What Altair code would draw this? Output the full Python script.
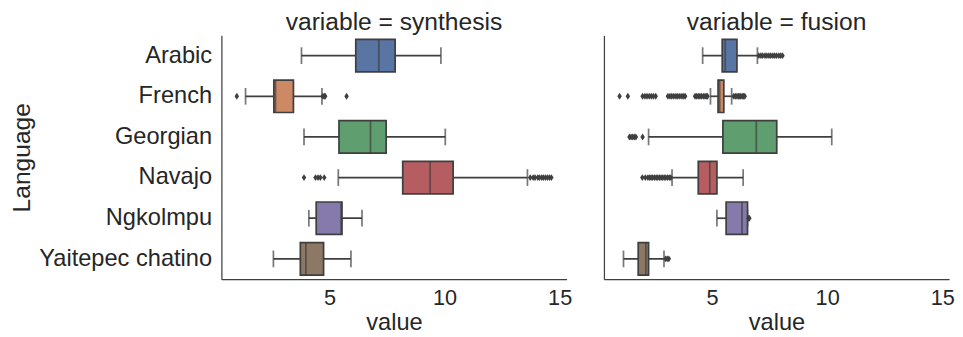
import altair as alt
import pandas as pd

languages = ["Arabic", "French", "Georgian", "Navajo", "Ngkolmpu", "Yaitepec chatino"]
palette = ["#5875a4", "#cc8963", "#5f9e6e", "#b55d60", "#857aab", "#8d7866"]

# synthesis box statistics
syn_lo  = [3.78, 1.35, 3.89, 5.38, 4.10, 2.56]
syn_q1  = [6.14, 2.58, 5.41, 8.18, 4.42, 3.73]
syn_med = [7.14, 2.65, 6.78, 9.37, 5.50, 3.97]
syn_q3  = [7.85, 3.43, 7.46, 10.37, 5.54, 4.74]
syn_hi  = [9.84, 4.67, 10.03, 13.60, 6.41, 5.93]
syn_outliers = {
    "French": [0.97, 4.71, 4.77, 4.81, 5.74],
    "Navajo": [3.89, 4.39, 4.50, 4.60, 4.77, 13.72, 13.85, 13.93, 14.05, 14.12,
               14.22, 14.29, 14.38, 14.47, 14.56, 14.64],
}

# fusion box statistics
fus_lo  = [4.59, 4.93, 2.24, 3.26, 5.21, 1.15]
fus_q1  = [5.44, 5.26, 5.47, 4.40, 5.61, 1.79]
fus_med = [5.57, 5.33, 6.92, 4.90, 6.30, 2.12]
fus_q3  = [6.08, 5.51, 7.81, 5.21, 6.54, 2.24]
fus_hi  = [6.97, 5.85, 10.20, 6.35, 6.54, 2.91]
fus_outliers = {
    "Arabic": [7.03, 7.12, 7.20, 7.30, 7.38, 7.47, 7.55, 7.64, 7.72, 7.80, 7.90, 7.98, 8.06],
    "French": [0.98, 1.34, 1.98, 2.08, 2.17, 2.27, 2.36, 2.45, 2.55, 3.08, 3.17, 3.25,
               3.34, 3.43, 3.51, 3.60, 3.69, 3.77, 3.83, 4.26, 4.33, 4.40, 4.47, 4.54,
               4.62, 4.69, 4.75, 4.80, 5.94, 6.01, 6.08, 6.14, 6.20, 6.25, 6.31, 6.36, 6.42],
    "Georgian": [1.41, 1.48, 1.55, 1.62, 1.69, 1.98],
    "Navajo": [1.97, 2.10, 2.21, 2.28, 2.35, 2.42, 2.50, 2.57, 2.64, 2.71, 2.78, 2.85,
               2.92, 2.99, 3.07, 3.14, 3.21],
    "Ngkolmpu": [6.58, 6.62],
    "Yaitepec chatino": [2.98, 3.05, 3.12],
}

x_ticks = [5, 10, 15]
x_domain = [0.3, 15.3]

EDGE = "#3f3f3f"
TXT = "#262626"
FONT = "Liberation Sans"
DIAMOND = "M0,-1L0.65,0L0,1L-0.65,0Z"


def panel(name, lo, q1, med, q3, hi, outliers, first):
    box_df = pd.DataFrame({"Language": languages, "lo": lo, "q1": q1,
                           "med": med, "q3": q3, "hi": hi})
    out_rows = [{"Language": k, "value": v} for k, vals in outliers.items() for v in vals]
    out_df = pd.DataFrame(out_rows)

    y = alt.Y("Language:N", sort=languages,
              scale=alt.Scale(domain=languages, paddingInner=0, paddingOuter=0),
              axis=alt.Axis(title="Language" if first else None, labels=first,
                            ticks=False, grid=False, domainColor=EDGE, domainWidth=1.25,
                            labelFontSize=24, labelPadding=10, labelColor=TXT,
                            titleFontSize=25, titleFontWeight="normal", titleColor=TXT,
                            titlePadding=4, labelFont=FONT, titleFont=FONT))
    xscale = alt.Scale(domain=x_domain, nice=False, zero=False)
    xaxis = alt.Axis(title="value", values=x_ticks, ticks=False, grid=False,
                     domainColor=EDGE, domainWidth=1.25, labelFontSize=22,
                     labelPadding=9, labelColor=TXT, titleFontSize=24,
                     titleFontWeight="normal", titleColor=TXT, titlePadding=2,
                     labelFont=FONT, titleFont=FONT)

    base = alt.Chart(box_df)
    whisk = base.mark_rule(color=EDGE, strokeWidth=1.75).encode(
        x=alt.X("lo:Q", scale=xscale, axis=xaxis), x2="hi:Q", y=y)
    caps_lo = base.mark_tick(color=EDGE, size=17, thickness=1.75).encode(
        x=alt.X("lo:Q", scale=xscale), y=y)
    caps_hi = base.mark_tick(color=EDGE, size=17, thickness=1.75).encode(
        x=alt.X("hi:Q", scale=xscale), y=y)
    box = base.mark_bar(size=33, stroke=EDGE, strokeWidth=1.75).encode(
        x=alt.X("q1:Q", scale=xscale), x2="q3:Q", y=y,
        color=alt.Color("Language:N", scale=alt.Scale(domain=languages, range=palette),
                        legend=None))
    median = base.mark_tick(color=EDGE, size=33, thickness=1.75).encode(
        x=alt.X("med:Q", scale=xscale), y=y)
    pts = alt.Chart(out_df).mark_point(shape=DIAMOND, filled=True, color=EDGE,
                                        size=49, opacity=1).encode(
        x=alt.X("value:Q", scale=xscale), y=y)

    return alt.layer(whisk, caps_lo, caps_hi, box, median, pts).properties(
        width=351, height=248,
        title=alt.Title("variable = " + name, fontSize=25, fontWeight="normal",
                        color=TXT, font=FONT, frame="group", anchor="middle", offset=0))


left = panel("synthesis", syn_lo, syn_q1, syn_med, syn_q3, syn_hi, syn_outliers, True)
right = panel("fusion", fus_lo, fus_q1, fus_med, fus_q3, fus_hi, fus_outliers, False)

chart = alt.hconcat(left, right, spacing=32).properties(
    padding={"left": 2, "top": 0, "right": 0, "bottom": 0}
).configure(background="white").configure_view(strokeWidth=0, stroke="transparent")

chart.save("out.html", embed_options={"renderer": "svg", "actions": False})
